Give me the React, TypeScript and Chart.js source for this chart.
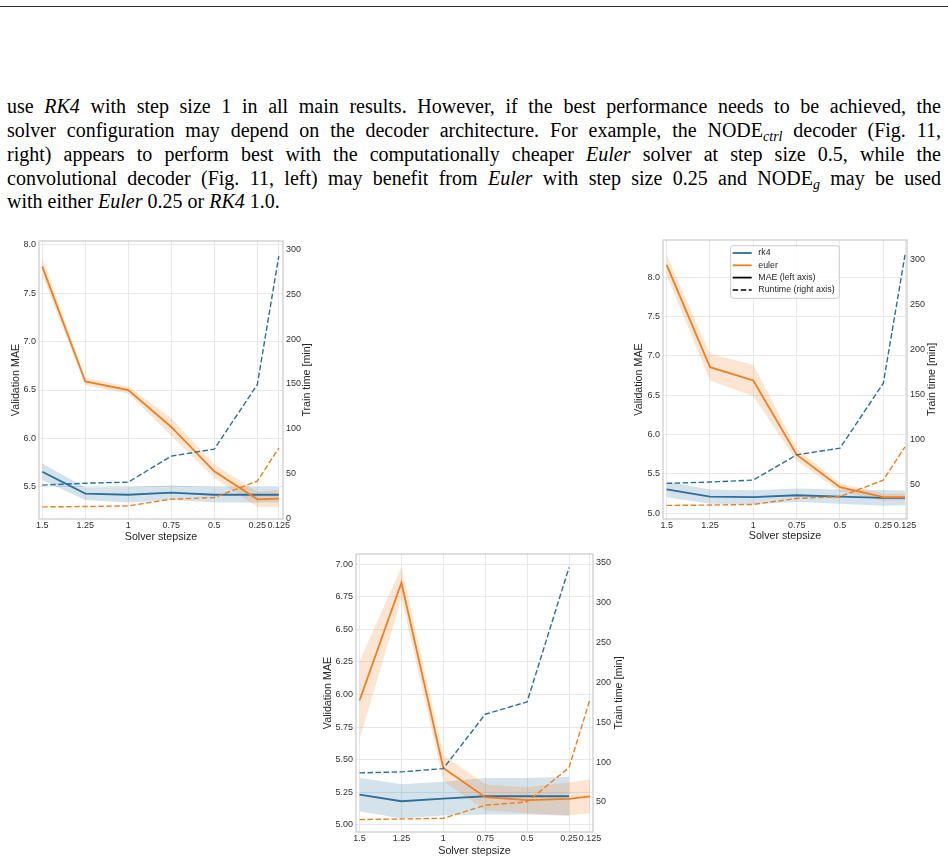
import React, { useEffect, useRef } from "react";
import { Chart, registerables } from "chart.js";

Chart.register(...registerables);

// ---------------- data ----------------
const stepsizes = [1.5, 1.25, 1, 0.75, 0.5, 0.25, 0.125];

// Left panel (convolutional decoder)
const convRk4Mae = [5.655, 5.428, 5.417, 5.438, 5.417, 5.417, 5.417];
const convRk4Err = [0.085, 0.065, 0.08, 0.075, 0.08, 0.08, 0.08];
const convEulerMae = [7.776, 6.588, 6.5, 6.118, 5.659, 5.369, 5.376];
const convEulerErr = [0.09, 0.04, 0.035, 0.09, 0.07, 0.08, 0.09];
const convRk4Time = [37.2, 39.4, 40.6, 69.6, 77.4, 149.2, 292.5];
const convEulerTime = [13.0, 13.4, 14.1, 21.6, 23.4, 41.7, 78.5];

// Right panel (NODE_ctrl decoder)
const ctrlRk4Mae = [5.304, 5.211, 5.203, 5.228, 5.211, 5.195, 5.195];
const ctrlRk4Err = [0.1, 0.09, 0.09, 0.085, 0.09, 0.1, 0.095];
const ctrlEulerMae = [8.157, 6.857, 6.688, 5.744, 5.33, 5.203, 5.203];
const ctrlEulerErr = [0.127, 0.17, 0.2, 0.08, 0.05, 0.045, 0.04];
const ctrlRk4Time = [51.5, 53.0, 55.2, 83.3, 90.7, 163.0, 305.6];
const ctrlEulerTime = [27.0, 27.4, 28.1, 34.8, 36.7, 55.2, 92.2];

// Bottom panel (NODE_g decoder)
const gRk4Mae = [5.232, 5.181, 5.201, 5.219, 5.219, 5.219, null];
const gRk4Err = [0.13, 0.13, 0.13, 0.14, 0.14, 0.15, null];
const gEulerMae = [5.954, 6.857, 5.436, 5.212, 5.189, 5.199, 5.219];
const gEulerErr = [0.3, 0.12, 0.1, 0.1, 0.1, 0.125, 0.13];
const gRk4Time = [86.4, 87.7, 91.8, 160.0, 175.5, 344.0, null];
const gEulerTime = [27.8, 28.7, 29.5, 45.8, 50.0, 93.1, 178.5];

// tick labels
const convLeftTicks = [5.5, 6.0, 6.5, 7.0, 7.5, 8.0];
const convRightTicks = [0, 50, 100, 150, 200, 250, 300];
const ctrlLeftTicks = [5.0, 5.5, 6.0, 6.5, 7.0, 7.5, 8.0];
const ctrlRightTicks = [50, 100, 150, 200, 250, 300];
const gLeftTicks = [5.0, 5.25, 5.5, 5.75, 6.0, 6.25, 6.5, 6.75, 7.0];
const gRightTicks = [50, 100, 150, 200, 250, 300, 350];

const xTitle = "Solver stepsize";
const leftTitle = "Validation MAE";
const rightTitle = "Train time [min]";
const legendLabels = ["rk4", "euler", "MAE (left axis)", "Runtime (right axis)"];

// ---------------- styles ----------------
const FONT = '"Liberation Sans", Arial, sans-serif';
const BLUE = "#2a6f9e";
const ORANGE = "#f07f1f";
const BLUE_BAND = "rgba(42,111,158,0.2)";
const ORANGE_BAND = "rgba(240,127,31,0.2)";
const GRID = "#e8e8e8";
const FRAME = "#cccccc";
const TICK_COLOR = "#333333";
const TITLE_COLOR = "#262626";
const TICK_SIZE = 9;
const TITLE_SIZE = 10.7;
const DASH = [5.5, 2.5];

type Num = number | null;

type PanelSpec = {
  rk4Mae: Num[];
  rk4Err: Num[];
  eulerMae: Num[];
  eulerErr: Num[];
  rk4Time: Num[];
  eulerTime: Num[];
  leftTicks: number[];
  rightTicks: number[];
  leftDecimals: number;
  xMin: number;
  xMax: number;
  yLMin: number;
  yLMax: number;
  yRMin: number;
  yRMax: number;
  box: { left: number; top: number; w: number; h: number };
  leftW: number;
  rightW: number;
  padTop: number;
  xH: number;
  xTitleOff: number;
  leftTitleOff: number;
  rightTitleOff: number;
  legend: boolean;
};

const pts = (vals: Num[]) => stepsizes.map((x, i) => ({ x, y: vals[i] }));
const bandPts = (vals: Num[], errs: Num[], sign: number) =>
  stepsizes.map((x, i) => ({
    x,
    y: vals[i] == null || errs[i] == null ? null : (vals[i] as number) + sign * (errs[i] as number),
  }));

const framePlugin = {
  id: "frame",
  afterDraw(chart: any) {
    const { ctx, chartArea: a } = chart;
    ctx.save();
    ctx.strokeStyle = FRAME;
    ctx.lineWidth = 1.25;
    ctx.strokeRect(a.left, a.top, a.right - a.left, a.bottom - a.top);
    ctx.restore();
  },
};

const titlesPlugin = (s: PanelSpec) => ({
  id: "axisTitles",
  afterDraw(chart: any) {
    const { ctx, chartArea: a } = chart;
    ctx.save();
    ctx.fillStyle = TITLE_COLOR;
    ctx.font = `${TITLE_SIZE}px ${FONT}`;
    ctx.textAlign = "center";
    ctx.textBaseline = "middle";
    const midY = (a.top + a.bottom) / 2;
    ctx.fillText(xTitle, (a.left + a.right) / 2, a.bottom + s.xTitleOff);
    ctx.save();
    ctx.translate(a.left - s.leftTitleOff, midY);
    ctx.rotate(-Math.PI / 2);
    ctx.fillText(leftTitle, 0, 0);
    ctx.restore();
    ctx.save();
    ctx.translate(a.right + s.rightTitleOff, midY);
    ctx.rotate(-Math.PI / 2);
    ctx.fillText(rightTitle, 0, 0);
    ctx.restore();
    ctx.restore();
  },
});

const legendPlugin = {
  id: "boxLegend",
  afterDraw(chart: any) {
    const { ctx, chartArea: a } = chart;
    const x0 = a.left + 67.7;
    const y0 = a.top + 5.7;
    const w = 108.6;
    const h = 52.6;
    const r = 2.5;
    ctx.save();
    ctx.beginPath();
    ctx.moveTo(x0 + r, y0);
    ctx.lineTo(x0 + w - r, y0);
    ctx.quadraticCurveTo(x0 + w, y0, x0 + w, y0 + r);
    ctx.lineTo(x0 + w, y0 + h - r);
    ctx.quadraticCurveTo(x0 + w, y0 + h, x0 + w - r, y0 + h);
    ctx.lineTo(x0 + r, y0 + h);
    ctx.quadraticCurveTo(x0, y0 + h, x0, y0 + h - r);
    ctx.lineTo(x0, y0 + r);
    ctx.quadraticCurveTo(x0, y0, x0 + r, y0);
    ctx.closePath();
    ctx.fillStyle = "rgba(255,255,255,0.85)";
    ctx.fill();
    ctx.strokeStyle = FRAME;
    ctx.lineWidth = 1;
    ctx.stroke();
    const colors = [BLUE, ORANGE, "#000000", "#000000"];
    const dashes = [[], [], [], DASH];
    ctx.font = `8.8px ${FONT}`;
    ctx.textBaseline = "middle";
    ctx.textAlign = "left";
    legendLabels.forEach((label, i) => {
      const y = y0 + 7.3 + i * 12.3;
      ctx.beginPath();
      ctx.setLineDash(dashes[i]);
      ctx.strokeStyle = colors[i];
      ctx.lineWidth = i === 3 ? 1.5 : 1.8;
      ctx.moveTo(x0 + 2, y);
      ctx.lineTo(x0 + 21, y);
      ctx.stroke();
      ctx.setLineDash([]);
      ctx.fillStyle = TITLE_COLOR;
      ctx.fillText(label, x0 + 27.6, y);
    });
    ctx.restore();
  },
};

function buildConfig(s: PanelSpec): any {
  const hidden = { borderWidth: 0, borderColor: "rgba(0,0,0,0)", pointRadius: 0, tension: 0 };
  const datasets = [
    { ...hidden, data: bandPts(s.rk4Mae, s.rk4Err, 1), yAxisID: "yL", fill: false, order: 10, backgroundColor: BLUE_BAND },
    { ...hidden, data: bandPts(s.rk4Mae, s.rk4Err, -1), yAxisID: "yL", fill: 0, order: 10, backgroundColor: BLUE_BAND },
    { ...hidden, data: bandPts(s.eulerMae, s.eulerErr, 1), yAxisID: "yL", fill: false, order: 9, backgroundColor: ORANGE_BAND },
    { ...hidden, data: bandPts(s.eulerMae, s.eulerErr, -1), yAxisID: "yL", fill: 2, order: 9, backgroundColor: ORANGE_BAND },
    { data: pts(s.rk4Mae), yAxisID: "yL", borderColor: BLUE, borderWidth: 1.8, pointRadius: 0, tension: 0, fill: false, order: 5 },
    { data: pts(s.eulerMae), yAxisID: "yL", borderColor: ORANGE, borderWidth: 1.8, pointRadius: 0, tension: 0, fill: false, order: 4 },
    { data: pts(s.rk4Time), yAxisID: "yR", borderColor: BLUE, borderWidth: 1.4, borderDash: DASH, pointRadius: 0, tension: 0, fill: false, order: 2 },
    { data: pts(s.eulerTime), yAxisID: "yR", borderColor: ORANGE, borderWidth: 1.4, borderDash: DASH, pointRadius: 0, tension: 0, fill: false, order: 1 },
  ];
  const tickFont = { family: FONT, size: TICK_SIZE };
  const plugins: any[] = [framePlugin, titlesPlugin(s)];
  if (s.legend) plugins.push(legendPlugin);
  return {
    type: "line",
    data: { datasets },
    plugins,
    options: {
      responsive: false,
      maintainAspectRatio: false,
      animation: false,
      events: [],
      layout: { padding: { top: s.padTop, left: 0, right: 0, bottom: 0 } },
      plugins: { legend: { display: false }, tooltip: { enabled: false } },
      scales: {
        x: {
          type: "linear",
          reverse: true,
          min: s.xMin,
          max: s.xMax,
          afterBuildTicks: (sc: any) => {
            sc.ticks = stepsizes.map((v) => ({ value: v }));
          },
          afterFit: (sc: any) => {
            sc.height = s.xH;
          },
          ticks: {
            autoSkip: false,
            maxRotation: 0,
            minRotation: 0,
            padding: 1,
            color: TICK_COLOR,
            font: tickFont,
            callback: (v: any) => String(v),
          },
          grid: { color: GRID, lineWidth: 1, drawTicks: false },
          border: { display: false },
        },
        yL: {
          type: "linear",
          position: "left",
          min: s.yLMin,
          max: s.yLMax,
          afterBuildTicks: (sc: any) => {
            sc.ticks = s.leftTicks.map((v) => ({ value: v }));
          },
          afterFit: (sc: any) => {
            sc.width = s.leftW;
          },
          ticks: {
            padding: 3,
            color: TICK_COLOR,
            font: tickFont,
            callback: (v: any) => Number(v).toFixed(s.leftDecimals),
          },
          grid: { color: GRID, lineWidth: 1, drawTicks: false },
          border: { display: false },
        },
        yR: {
          type: "linear",
          position: "right",
          min: s.yRMin,
          max: s.yRMax,
          afterBuildTicks: (sc: any) => {
            sc.ticks = s.rightTicks.map((v) => ({ value: v }));
          },
          afterFit: (sc: any) => {
            sc.width = s.rightW;
          },
          ticks: {
            padding: 3,
            color: TICK_COLOR,
            font: tickFont,
            callback: (v: any) => String(v),
          },
          grid: { display: false, drawTicks: false },
          border: { display: false },
        },
      },
    },
  };
}

const convSpec: PanelSpec = {
  rk4Mae: convRk4Mae, rk4Err: convRk4Err, eulerMae: convEulerMae, eulerErr: convEulerErr,
  rk4Time: convRk4Time, eulerTime: convEulerTime,
  leftTicks: convLeftTicks, rightTicks: convRightTicks, leftDecimals: 1,
  xMin: 0.1006, xMax: 1.519, yLMin: 5.166, yLMax: 8.041, yRMin: -0.5, yRMax: 309.3,
  box: { left: 0, top: 226, w: 322, h: 324 },
  leftW: 39, rightW: 39, padTop: 15, xH: 31,
  xTitleOff: 17.7, leftTitleOff: 23, rightTitleOff: 24, legend: false,
};

const ctrlSpec: PanelSpec = {
  rk4Mae: ctrlRk4Mae, rk4Err: ctrlRk4Err, eulerMae: ctrlEulerMae, eulerErr: ctrlEulerErr,
  rk4Time: ctrlRk4Time, eulerTime: ctrlEulerTime,
  leftTicks: ctrlLeftTicks, rightTicks: ctrlRightTicks, leftDecimals: 1,
  xMin: 0.1135, xMax: 1.521, yLMin: 4.926, yLMax: 8.474, yRMin: 11.9, yRMax: 322.2,
  box: { left: 624, top: 225, w: 324, h: 325 },
  leftW: 39, rightW: 41, padTop: 15, xH: 31,
  xTitleOff: 17.4, leftTitleOff: 23.7, rightTitleOff: 24.7, legend: true,
};

const gSpec: PanelSpec = {
  rk4Mae: gRk4Mae, rk4Err: gRk4Err, eulerMae: gEulerMae, eulerErr: gEulerErr,
  rk4Time: gRk4Time, eulerTime: gEulerTime,
  leftTicks: gLeftTicks, rightTicks: gRightTicks, leftDecimals: 2,
  xMin: 0.107, xMax: 1.521, yLMin: 4.945, yLMax: 7.077, yRMin: 12.3, yRMax: 360.9,
  box: { left: 310, top: 539, w: 320, h: 324 },
  leftW: 46, rightW: 37, padTop: 15, xH: 31,
  xTitleOff: 18.7, leftTitleOff: 28.3, rightTitleOff: 26, legend: false,
};

function Panel({ spec }: { spec: PanelSpec }) {
  const ref = useRef<HTMLCanvasElement>(null);
  useEffect(() => {
    const chart = new Chart(ref.current as HTMLCanvasElement, buildConfig(spec));
    return () => chart.destroy();
  }, [spec]);
  return (
    <canvas
      ref={ref}
      width={spec.box.w}
      height={spec.box.h}
      style={{
        position: "absolute",
        left: spec.box.left,
        top: spec.box.top,
        width: spec.box.w,
        height: spec.box.h,
      }}
    />
  );
}

const subStyle: React.CSSProperties = {
  fontSize: "0.7em",
  verticalAlign: "baseline",
  position: "relative",
  top: "0.3em",
  lineHeight: 0,
};

const justLine: React.CSSProperties = {
  textAlign: "justify",
  textAlignLast: "justify" as any,
  whiteSpace: "normal",
};

export default function App() {
  return (
    <div
      style={{
        position: "absolute",
        left: 0,
        top: 0,
        width: 948,
        height: 863,
        background: "#ffffff",
        overflow: "hidden",
      }}
    >
      <div style={{ position: "absolute", left: 0, top: 6, width: 948, height: 1.3, background: "#333333" }} />
      <div
        style={{
          position: "absolute",
          left: 7,
          top: 95,
          width: 934,
          fontFamily: '"Liberation Serif", "Times New Roman", serif',
          fontSize: 20,
          lineHeight: "23.85px",
          color: "#000000",
        }}
      >
        <div style={justLine}>
          use <i>RK4</i> with step size 1 in all main results. However, if the best performance needs to be achieved, the
        </div>
        <div style={justLine}>
          solver configuration may depend on the decoder architecture. For example, the NODE
          <sub style={subStyle}>
            <i>ctrl</i>
          </sub>{" "}
          decoder (Fig. 11,
        </div>
        <div style={justLine}>
          right) appears to perform best with the computationally cheaper <i>Euler</i> solver at step size 0.5, while the
        </div>
        <div style={justLine}>
          convolutional decoder (Fig. 11, left) may benefit from <i>Euler</i> with step size 0.25 and NODE
          <sub style={subStyle}>
            <i>g</i>
          </sub>{" "}
          may be used
        </div>
        <div style={{ textAlign: "left" }}>
          with either <i>Euler</i> 0.25 or <i>RK4</i> 1.0.
        </div>
      </div>
      <Panel spec={convSpec} />
      <Panel spec={ctrlSpec} />
      <Panel spec={gSpec} />
    </div>
  );
}
